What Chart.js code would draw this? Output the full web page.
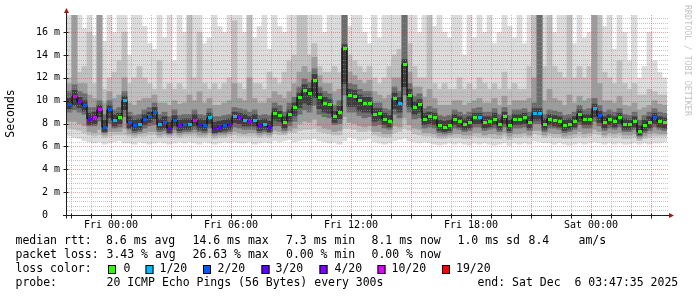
<!DOCTYPE html>
<html><head><meta charset="utf-8">
<script src="https://cdn.jsdelivr.net/npm/chart.js@4/dist/chart.umd.min.js"></script>
<style>html,body{margin:0;padding:0;background:#fff;overflow:hidden}#wrap{position:relative;width:697px;height:297px}canvas{display:block}</style>
</head><body><div id="wrap"><canvas id="c" width="697" height="297"></canvas></div>
<script>
// ---- time axis (hours relative to Fri 00:00) ----
const startHour = -2.2;      // Thu 21:48
const endHour = 27.8;        // Sat 03:48
const stepHours = 0.25;      // one column per 15 minutes
const hourTicks = [-2,-1,0,1,2,3,4,5,6,7,8,9,10,11,12,13,14,15,16,17,18,19,20,21,22,23,24,25,26,27];
const labelHours = [0,6,12,18,24];
const labelTexts = ['Fri 00:00','Fri 06:00','Fri 12:00','Fri 18:00','Sat 00:00'];
const yMajor = [0,2,4,6,8,10,12,14,16];
const yLabels = ['0  ','2 m','4 m','6 m','8 m','10 m','12 m','14 m','16 m'];
const yMax = 17.5;

// ---- series (ms) ----
const median = [9.7,10.4,9.9,9.6,8.4,8.5,9.2,7.7,9.2,8.3,8.5,10.0,8.1,7.8,7.9,8.4,8.6,9.0,7.9,8.1,7.6,8.3,7.8,7.9,
7.9,8.3,7.9,7.8,8.5,7.6,7.7,7.8,7.9,8.6,8.5,8.3,8.2,8.3,7.8,7.9,7.7,8.9,8.7,8.1,8.8,9.4,10.3,10.9,
10.6,11.8,10.3,9.8,9.7,8.6,9.0,14.6,10.5,10.4,10.0,9.8,9.8,8.8,8.9,8.4,8.2,10.2,9.8,13.2,10.5,9.4,9.7,8.4,
8.6,8.5,7.8,7.7,7.8,8.4,8.2,7.9,8.1,8.5,8.5,8.1,8.2,8.4,7.9,8.6,7.8,8.4,8.4,8.5,8.1,8.9,8.9,7.9,
8.4,8.3,8.2,7.8,7.9,8.2,8.8,8.4,8.4,9.3,8.7,8.1,8.4,8.2,8.5,7.9,7.9,8.2,7.3,7.8,8.1,8.5,8.2,8.1];
const lossIndex = [2,5,4,2,3,5,5,2,2,1,0,1,2,2,1,2,2,2,1,2,3,2,4,2,
1,5,3,2,1,3,3,2,3,1,4,1,4,1,3,1,3,0,0,0,0,0,0,0,
0,0,0,0,0,0,0,0,0,0,0,0,0,0,0,0,0,0,1,0,0,0,0,0,
0,0,0,0,0,0,0,0,0,0,1,0,0,0,0,0,0,0,0,0,0,1,1,0,
0,0,0,0,0,0,0,0,0,1,2,0,0,0,0,0,0,0,0,0,0,2,0,0];
// smoke: outermost (lightest) to innermost (darkest)
const smokeMax = [17.5,17.5,17.5,16.3,17.5,15.7,17.5,15.2,17.5,16.0,17.5,17.5,14.0,17.5,17.5,16.5,15.0,14.5,17.5,15.5,17.5,13.5,17.5,16.0,
17.5,17.5,17.5,15.0,15.5,17.5,16.5,16.0,17.5,17.5,17.5,16.0,17.5,15.5,16.5,17.5,14.5,17.5,16.5,16.0,17.5,17.5,17.5,17.5,
17.5,17.5,17.5,16.0,17.5,17.5,17.5,17.5,16.5,17.5,17.5,16.0,15.0,17.5,15.5,17.5,17.5,17.5,17.5,17.5,17.5,17.5,16.0,17.5,
17.5,16.5,17.5,16.0,15.5,17.5,17.5,14.0,17.5,15.5,17.5,16.0,17.5,15.0,16.0,17.5,16.5,15.5,17.5,15.0,17.5,17.5,17.5,17.5,
17.5,16.0,17.5,17.5,17.5,15.0,17.5,15.5,16.0,17.5,17.5,16.5,17.5,14.5,17.5,16.0,13.5,17.5,12.0,13.0,16.0,13.5,12.5,12.0];
const smokeUpper = [12.0,17.5,12.5,13.0,16.0,11.5,17.5,11.0,12.0,12.5,13.5,16.0,11.5,12.0,13.0,12.0,11.5,11.0,13.5,11.0,11.5,11.0,11.5,11.0,
17.5,12.0,16.0,11.5,11.0,11.5,11.0,11.5,12.0,17.0,11.5,11.0,17.5,11.5,11.5,11.0,12.5,12.0,11.5,12.5,13.5,14.0,17.5,17.5,
14.0,15.0,13.0,12.5,12.5,13.0,12.5,17.5,14.0,13.5,13.0,12.5,13.0,12.0,11.5,12.0,13.0,14.0,14.5,17.5,15.0,13.0,12.0,12.0,
17.5,11.5,11.0,11.5,11.0,11.0,12.0,11.0,11.5,11.0,12.0,11.5,11.0,11.5,11.0,12.5,11.0,11.5,11.0,11.0,13.0,17.5,17.5,13.0,
17.5,13.0,12.5,12.0,17.5,12.0,13.0,12.0,13.0,17.5,17.5,12.5,12.0,11.5,13.5,11.5,11.0,11.5,10.5,10.5,11.0,10.8,10.5,10.5];
const midUpper = [11.5,17.5,11.5,11.5,10.5,10.2,17.5,9.8,10.8,10.2,10.5,12.0,9.8,9.6,10.0,10.2,10.2,10.5,9.8,9.8,9.6,10.0,9.7,9.8,
10.5,10.0,10.8,9.8,10.2,9.6,9.6,9.8,10.0,11.5,10.2,10.0,12.0,10.2,9.8,9.8,10.2,10.8,10.5,10.2,10.8,11.5,12.5,13.0,
12.5,13.8,12.2,11.5,11.5,10.8,11.0,17.5,12.5,12.2,11.8,11.5,11.8,10.8,10.5,10.2,10.5,12.0,12.0,17.5,12.5,11.2,11.2,10.3,
11.0,10.2,9.6,9.6,9.6,10.0,10.0,9.6,9.8,10.0,10.2,9.8,9.8,10.2,9.6,10.4,9.6,10.0,10.0,10.0,10.2,12.0,17.5,10.0,
11.0,10.2,10.0,9.6,10.5,9.8,10.4,10.0,10.2,17.5,11.5,10.0,10.0,9.8,10.4,9.6,9.5,9.8,9.2,9.4,9.6,10.0,9.7,9.6];
const coreUpper = [10.8,11.4,10.8,10.6,9.4,9.4,10.0,8.8,10.0,9.2,9.4,10.8,9.0,8.7,8.8,9.2,9.4,9.8,8.8,9.0,8.6,9.2,8.7,8.8,
8.8,9.2,8.8,8.7,9.3,8.6,8.6,8.7,8.8,9.4,9.3,9.2,9.0,9.2,8.7,8.8,8.7,9.8,9.6,9.0,9.8,10.3,11.2,11.9,
11.6,12.8,11.2,10.8,10.6,9.6,10.0,17.5,11.5,11.4,11.0,10.8,10.8,9.8,9.8,9.3,9.2,11.2,10.8,17.5,11.5,10.4,10.6,9.3,
9.5,9.3,8.7,8.6,8.7,9.2,9.0,8.8,9.0,9.3,9.4,9.0,9.0,9.3,8.8,9.4,8.7,9.2,9.2,9.3,9.0,9.8,17.5,8.8,
9.2,9.1,9.0,8.7,8.8,9.0,9.6,9.2,9.3,10.2,9.6,9.0,9.2,9.0,9.3,8.8,8.7,9.0,8.3,8.7,9.0,9.3,9.0,8.9];
const innerUpper = [10.2,10.9,10.3,10.0,8.9,9.0,9.6,8.3,9.6,8.8,8.9,10.4,8.6,8.3,8.4,8.8,9.0,9.4,8.4,8.6,8.1,8.7,8.3,8.4,
8.4,8.8,8.4,8.3,8.9,8.1,8.2,8.3,8.4,9.0,8.9,8.8,8.6,8.8,8.3,8.4,8.2,9.3,9.1,8.6,9.2,9.8,10.7,11.4,
11.1,12.3,10.7,10.3,10.1,9.1,9.5,14.9,11.0,10.9,10.5,10.3,10.3,9.3,9.3,8.9,8.7,10.7,10.3,13.6,11.0,9.9,10.1,8.9,
9.0,8.9,8.3,8.2,8.3,8.8,8.6,8.4,8.6,8.9,8.9,8.6,8.6,8.9,8.4,9.0,8.3,8.8,8.8,8.9,8.6,9.3,9.3,8.4,
8.8,8.7,8.6,8.3,8.4,8.6,9.2,8.8,8.8,9.7,9.1,8.6,8.8,8.6,8.9,8.4,8.3,8.6,7.8,8.3,8.6,8.9,8.6,8.5];
const innerLower = [9.3,9.6,9.4,9.1,7.9,8.0,8.6,7.3,8.5,7.8,8.0,9.2,7.6,7.4,7.5,7.9,8.1,8.4,7.5,7.6,7.2,7.8,7.4,7.5,
7.5,7.8,7.5,7.4,8.0,7.2,7.3,7.4,7.5,8.1,8.0,7.8,7.8,7.8,7.4,7.5,7.3,8.3,8.2,7.6,8.2,8.7,9.4,9.8,
9.6,10.3,9.3,9.0,8.9,8.1,8.4,11.5,9.5,9.5,9.1,9.0,9.0,8.2,8.3,7.9,7.7,9.3,9.0,11.2,9.5,8.8,9.0,7.9,
8.0,7.9,7.4,7.3,7.4,7.9,7.7,7.5,7.6,8.0,8.0,7.6,7.7,7.9,7.5,8.0,7.4,7.9,7.9,8.0,7.6,8.3,8.3,7.5,
7.9,7.8,7.7,7.4,7.5,7.7,8.2,7.9,7.9,8.6,8.1,7.6,7.9,7.7,8.0,7.5,7.5,7.7,7.0,7.4,7.6,8.0,7.7,7.6];
const coreLower = [9.0,9.2,9.0,8.8,7.8,7.8,8.2,7.2,8.0,7.6,7.7,8.6,7.5,7.2,7.3,7.6,7.8,7.9,7.3,7.4,7.1,7.5,7.2,7.3,
7.3,7.5,7.3,7.2,7.6,7.1,7.2,7.2,7.3,7.7,7.6,7.5,7.5,7.5,7.2,7.3,7.2,7.8,7.8,7.4,7.8,8.2,8.8,9.2,
9.0,9.6,8.8,8.6,8.5,7.9,8.0,10.5,9.0,9.0,8.7,8.5,8.6,7.8,7.9,7.6,7.5,8.8,8.5,10.5,9.0,8.4,8.5,7.6,
7.7,7.6,7.2,7.1,7.2,7.6,7.5,7.3,7.4,7.7,7.7,7.4,7.5,7.6,7.3,7.7,7.2,7.6,7.6,7.7,7.4,8.0,8.0,7.3,
7.6,7.6,7.5,7.2,7.3,7.5,7.9,7.6,7.6,8.2,7.8,7.4,7.6,7.5,7.7,7.3,7.3,7.5,6.9,7.2,7.4,7.7,7.5,7.4];
const midLower = [8.2,8.2,8.0,7.8,7.3,7.2,7.5,7.0,7.3,7.3,7.3,7.6,7.1,7.0,7.1,7.2,7.3,7.3,7.0,7.1,7.0,7.2,7.0,7.1,
7.1,7.2,7.0,7.0,7.2,6.9,7.0,7.0,7.1,7.3,7.2,7.1,7.2,7.2,7.0,7.1,7.0,7.4,7.3,7.2,7.4,7.6,8.0,8.2,
8.1,8.4,7.8,7.6,7.5,7.3,7.4,8.6,8.1,8.0,7.8,7.7,7.8,7.3,7.3,7.1,7.1,7.8,7.7,8.5,7.9,7.6,7.5,7.2,
7.2,7.1,6.9,6.9,7.0,7.1,7.1,7.0,7.0,7.2,7.2,7.0,7.1,7.1,7.0,7.2,6.9,7.1,7.1,7.2,7.0,7.4,7.4,7.0,
7.2,7.1,7.1,6.9,7.0,7.1,7.3,7.1,7.2,7.5,7.3,7.0,7.2,7.1,7.2,7.0,7.0,7.1,6.7,6.9,7.1,7.2,7.1,7.1];
const smokeLower = [7.6,7.5,7.4,7.2,7.0,6.9,7.0,6.8,6.9,7.0,7.0,7.0,6.9,6.8,6.9,6.9,7.0,7.0,6.8,6.9,6.8,6.9,6.8,6.9,
6.9,6.9,6.8,6.8,6.9,6.7,6.8,6.8,6.9,7.0,6.9,6.9,6.9,6.9,6.8,6.9,6.8,7.1,7.0,7.0,7.2,7.2,7.4,7.5,
7.5,7.6,7.3,7.2,7.1,7.0,7.0,7.6,7.6,7.5,7.3,7.3,7.4,7.0,6.9,6.8,6.8,7.2,7.3,7.6,7.4,7.1,7.0,6.9,
6.9,6.8,6.7,6.7,6.8,6.8,6.8,6.7,6.7,6.9,6.8,6.8,6.8,6.7,6.7,6.9,6.6,6.8,6.8,6.9,6.8,7.1,7.0,6.8,
6.9,6.8,6.8,6.7,6.7,6.8,6.9,6.8,6.9,7.1,7.0,6.8,6.9,6.8,6.9,6.7,6.7,6.8,6.5,6.7,6.8,6.9,6.9,6.9];
const smokeMin = [6.9,6.8,6.7,6.5,6.4,6.3,6.4,6.2,6.3,6.4,6.5,6.3,6.3,6.2,6.4,6.3,6.2,6.3,6.4,6.3,6.2,6.3,6.4,6.3,
6.4,6.3,6.2,6.4,6.3,6.2,6.3,6.4,6.3,6.4,6.3,6.3,6.4,6.2,6.3,6.4,6.3,6.5,6.4,6.5,6.6,6.4,6.5,6.6,
6.6,6.7,6.5,6.4,6.3,6.4,6.2,6.5,6.8,6.7,6.5,6.6,6.7,6.4,6.3,6.2,6.3,6.5,6.6,6.7,6.5,6.4,6.3,6.4,
6.3,6.2,6.1,6.2,6.3,6.2,6.3,6.2,6.1,6.3,6.2,6.3,6.2,6.1,6.2,6.3,6.1,6.3,6.2,6.3,6.2,6.5,6.4,6.3,
6.3,6.2,6.3,6.2,6.1,6.2,6.3,6.2,6.3,6.4,6.3,6.2,6.3,6.2,6.3,6.2,6.2,6.3,6.2,6.3,6.2,6.3,6.3,6.4];

// ---- legend ----
const lossLabels = ['0','1/20','2/20','3/20','4/20','10/20','19/20'];
const lossColors = ['#26ff00','#00b8ff','#0059ff','#5e00ff','#7e00ff','#dd00ff','#ff0000'];
const statsRtt = ['8.6 ms avg','14.6 ms max','7.3 ms min','8.1 ms now','1.0 ms sd','8.4','am/s'];
const statsLoss = ['3.43 % avg','26.63 % max','0.00 % min','0.00 % now'];
const probeText = '20 ICMP Echo Pings (56 Bytes) every 300s';
const endText = 'end: Sat Dec  6 03:47:35 2025';

const centers = median.map((_, i) => startHour + stepHours * (i + 0.5));
const band = (lo, hi) => centers.map((x, i) => ({x: x, y: [lo[i], hi[i]]}));
const markers = lossColors.map(col => {
  const cv = document.createElement('canvas'); cv.width = 4; cv.height = 3;
  const g = cv.getContext('2d'); g.fillStyle = col; g.fillRect(0, 0, 4, 3); return cv;
});

const MONO = '"DejaVu Sans Mono", monospace';
function seg(ctx, x1, y1, x2, y2) { ctx.beginPath(); ctx.moveTo(x1, y1); ctx.lineTo(x2, y2); ctx.stroke(); }

function drawGrid(chart) {
  const {ctx, chartArea: a, scales: {x, y}} = chart;
  ctx.save();
  ctx.lineWidth = 1;
  ctx.setLineDash([1, 1]);
  ctx.strokeStyle = 'rgba(150,150,150,0.55)';
  for (let k = 1; k * 0.4 < yMax; k++) {
    if (k % 5 === 0) continue;
    const py = Math.round(y.getPixelForValue(k * 0.4)) + 0.5;
    seg(ctx, a.left, py, a.right + 1, py);
  }
  hourTicks.forEach(h => {
    if (h % 3 === 0) return;
    const px = Math.round(x.getPixelForValue(h)) + 0.5;
    seg(ctx, px, a.top, px, a.bottom);
  });
  ctx.strokeStyle = 'rgba(215,70,70,0.5)';
  yMajor.forEach(v => {
    if (v === 0) return;
    const py = Math.round(y.getPixelForValue(v)) + 0.5;
    seg(ctx, a.left, py, a.right + 1, py);
  });
  hourTicks.forEach(h => {
    if (h % 3 !== 0) return;
    const px = Math.round(x.getPixelForValue(h)) + 0.5;
    seg(ctx, px, a.top, px, a.bottom);
  });
  ctx.restore();
  ctx.imageSmoothingEnabled = false;
}

function drawFrame(chart) {
  const {ctx, chartArea: a, scales: {x, y}} = chart;
  ctx.save();
  ctx.setLineDash([]);
  ctx.lineWidth = 1;
  ctx.strokeStyle = '#1c1c1c';
  const y0 = Math.round(y.getPixelForValue(0)) + 0.5;
  const x0 = Math.round(a.left) - 0.5;
  seg(ctx, a.left - 4, y0, a.right + 3, y0);
  seg(ctx, x0, y0 + 3, x0, a.top - 3);
  hourTicks.forEach(h => {
    const px = Math.round(x.getPixelForValue(h)) + 0.5;
    seg(ctx, px, y0 - 2, px, y0 + 3);
  });
  yMajor.forEach(v => {
    const py = Math.round(y.getPixelForValue(v)) + 0.5;
    seg(ctx, x0 - 3, py, x0 + 2, py);
  });
  ctx.fillStyle = '#a01818';
  ctx.beginPath(); ctx.moveTo(x0, a.top - 7); ctx.lineTo(x0 - 2.5, a.top - 2); ctx.lineTo(x0 + 2.5, a.top - 2); ctx.closePath(); ctx.fill();
  ctx.beginPath(); ctx.moveTo(a.right + 7, y0); ctx.lineTo(a.right + 2, y0 - 2.5); ctx.lineTo(a.right + 2, y0 + 2.5); ctx.closePath(); ctx.fill();

  ctx.fillStyle = '#000';
  ctx.font = '10px ' + MONO;
  ctx.textBaseline = 'middle';
  ctx.textAlign = 'center';
  labelHours.forEach((h, i) => ctx.fillText(labelTexts[i], x.getPixelForValue(h), 225.5));
  ctx.textAlign = 'right';
  yMajor.forEach((v, i) => ctx.fillText(yLabels[i], 60, y.getPixelForValue(v)));

  ctx.save();
  ctx.font = '11.5px ' + MONO;
  ctx.textAlign = 'center';
  ctx.translate(11, 113.5);
  ctx.rotate(-Math.PI / 2);
  ctx.fillText('Seconds', 0, 0);
  ctx.restore();

  ctx.save();
  ctx.font = '8.4px ' + MONO;
  ctx.fillStyle = '#c4c4c4';
  ctx.textAlign = 'left';
  ctx.translate(687.5, 5);
  ctx.rotate(Math.PI / 2);
  ctx.fillText('RRDTOOL / TOBI OETIKER', 0, 0);
  ctx.restore();

  ctx.font = '11.5px ' + MONO;
  ctx.textAlign = 'left';
  ctx.fillStyle = '#000';
  const r1 = 241.5, r2 = 255, r3 = 269, r4 = 283;
  ctx.fillText('median rtt:', 15.5, r1);
  [106, 192.5, 286, 371.5, 457.5, 528.5, 578.5].forEach((px, i) => ctx.fillText(statsRtt[i], px, r1));
  ctx.fillText('packet loss:', 15.5, r2);
  [106.5, 192.5, 286, 371.5].forEach((px, i) => ctx.fillText(statsLoss[i], px, r2));
  ctx.fillText('loss color:', 15.5, r3);
  const boxX = [108, 145.5, 203, 261.5, 319.5, 377.5, 442];
  const lblX = [123.5, 159.5, 217.5, 275.5, 334.5, 391.5, 456];
  lossLabels.forEach((t, i) => {
    ctx.fillStyle = lossColors[i];
    ctx.fillRect(boxX[i], 265, 8, 9);
    ctx.strokeStyle = '#000';
    ctx.strokeRect(boxX[i] + 0.5, 265.5, 7, 8);
    ctx.fillStyle = '#000';
    ctx.fillText(t, lblX[i], r3);
  });
  ctx.fillText('probe:', 15.5, r4);
  ctx.fillText(probeText, 106.5, r4);
  ctx.fillText(endText, 477.5, r4);
  ctx.restore();
}

const decor = {
  id: 'decor',
  beforeDraw(chart) { const c = chart.ctx; c.save(); c.fillStyle = '#fff'; c.fillRect(0, 0, chart.width, chart.height); c.restore(); },
  beforeDatasetDraw(chart, args) { if (args.index === 5) drawGrid(chart); },
  afterDraw(chart) { drawFrame(chart); }
};

const barOpts = {type: 'bar', borderWidth: 0, barThickness: 5.2, grouped: false};
new Chart(document.getElementById('c'), {
  type: 'bar',
  data: {
    datasets: [
      Object.assign({data: band(smokeMin, smokeMax), backgroundColor: '#dcdcdc', order: 9}, barOpts),
      Object.assign({data: band(smokeLower, smokeUpper), backgroundColor: '#bfbfbf', order: 8}, barOpts),
      Object.assign({data: band(midLower, midUpper), backgroundColor: '#9c9c9c', order: 7}, barOpts),
      Object.assign({data: band(coreLower, coreUpper), backgroundColor: '#6c6c6c', order: 6}, barOpts),
      Object.assign({data: band(innerLower, innerUpper), backgroundColor: '#3e3e3e', order: 5}, barOpts),
      {type: 'line', data: centers.map((x, i) => ({x: x, y: median[i]})), stepped: 'middle', borderColor: '#000', borderWidth: 1, pointRadius: 0, fill: false, order: 3},
      {type: 'line', data: centers.map((x, i) => ({x: x, y: median[i]})), showLine: false, pointStyle: lossIndex.map(k => markers[k]), pointRadius: 2, order: 2}
    ]
  },
  options: {
    responsive: false, animation: false, devicePixelRatio: 1,
    layout: {padding: {left: 67, right: 30, top: 15, bottom: 82}},
    plugins: {legend: {display: false}, tooltip: {enabled: false}},
    scales: {
      x: {type: 'linear', min: startHour, max: endHour, offset: false, display: false},
      y: {type: 'linear', min: 0, max: yMax, display: false}
    }
  },
  plugins: [decor]
});
</script>
</body></html>
